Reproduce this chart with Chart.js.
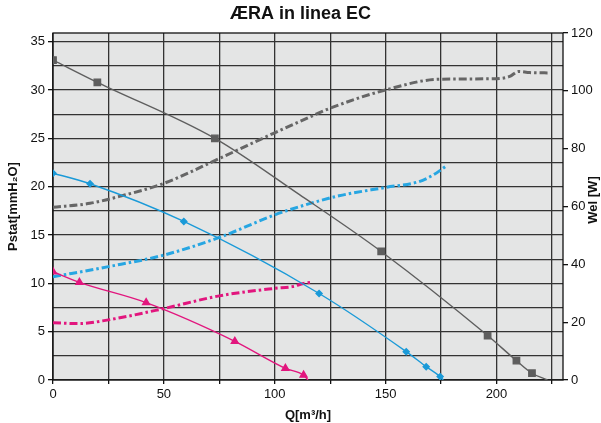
<!DOCTYPE html>
<html><head><meta charset="utf-8">
<script src="https://cdn.jsdelivr.net/npm/chart.js@4.4.1/dist/chart.umd.min.js"></script>
<style>html,body{margin:0;padding:0;background:#fff}#wrap{width:601px;height:423px}</style>
</head><body><div id="wrap"><canvas id="c" width="601" height="423"></canvas></div>
<script>
// Pressure curves (left axis, mmH2O) vs Q [m3/h]
const grayP_q = [0, 20, 73, 111, 148, 196, 209, 216, 223];
const grayP_v = [33.1, 30.8, 25.0, 19.2, 13.3, 4.6, 2.0, 0.7, 0];
const grayP_marks = [1,1,1,0,1,1,1,1,0];

const blueP_q = [0, 16.7, 59, 120, 159.3, 168.3, 174.6, 176];
const blueP_v = [21.4, 20.3, 16.4, 8.95, 2.93, 1.38, 0.35, 0];
const blueP_marks = [1,1,1,1,1,1,1,0];

const magP_q = [0, 11.9, 42, 82, 104.8, 113, 115];
const magP_v = [11.2, 10.1, 8.0, 4.0, 1.2, 0.5, 0];
const magP_marks = [1,1,1,1,1,1,0];

// Power curves (right axis, W) vs Q
const grayW_q = [0, 16.7, 30, 50, 75, 100, 111, 125, 150, 174, 200, 206, 210, 215, 224];
const grayW_v = [59.7, 61.1, 63.5, 68.0, 76.6, 85.5, 89.3, 94.0, 100.3, 104.0, 104.2, 105.0, 106.7, 106.3, 106.2];

const blueW_q = [0, 25, 50, 75, 100, 111, 129, 150, 165, 171.5, 177];
const blueW_v = [35.7, 39.2, 43.2, 49.3, 57.1, 59.9, 63.7, 66.6, 68.6, 70.9, 73.8];

const magW_q = [0, 12, 25, 50, 75, 100, 108, 113, 117];
const magW_v = [19.8, 19.5, 20.8, 24.7, 29.1, 31.7, 32.3, 33.4, 33.8];

const xTicks = [0, 50, 100, 150, 200];
const yTicks = [0, 5, 10, 15, 20, 25, 30, 35];
const y2Ticks = [0, 20, 40, 60, 80, 100, 120];

const GRAY = '#5e5e5e', BLUE = '#1a9ad8', MAG = '#e2167e';
const pts = (q, v) => q.map((x, i) => ({x, y: v[i]}));
const FONT = '"Liberation Sans", Arial, sans-serif';

const solid = (label, q, v, marks, color, style, r) => ({
  label, data: pts(q, v), yAxisID: 'y', borderColor: color, backgroundColor: color,
  borderWidth: 1.4, pointStyle: style, pointRadius: marks.map(m => m ? r : 0),
  pointHoverRadius: 0, cubicInterpolationMode: 'monotone'
});
const dashdot = (label, q, v, color) => ({
  label, data: pts(q, v), yAxisID: 'y2', borderColor: color, borderWidth: 3,
  borderDash: [8, 3, 2.5, 3], pointRadius: 0, cubicInterpolationMode: 'monotone'
});

const areaPlugin = {
  id: 'area',
  beforeDraw(chart) {
    const {ctx, chartArea: a} = chart;
    ctx.save(); ctx.fillStyle = '#e4e5e5';
    ctx.fillRect(a.left, a.top, a.right - a.left, a.bottom - a.top); ctx.restore();
  },
  beforeDatasetsDraw(chart) {
    const {ctx, chartArea: a} = chart;
    ctx.save(); ctx.strokeStyle = '#111'; ctx.lineWidth = 1.3;
    ctx.strokeRect(a.left, a.top, a.right - a.left, a.bottom - a.top); ctx.restore();
  },
  afterDraw(chart) {
    const {ctx} = chart;
    ctx.save(); ctx.font = 'bold 13px ' + FONT; ctx.fillStyle = '#111';
    ctx.textAlign = 'center'; ctx.textBaseline = 'middle';
    ctx.translate(593, 200); ctx.rotate(-Math.PI / 2);
    ctx.fillText('Wel [W]', 0, 0); ctx.restore();
  }
};

new Chart(document.getElementById('c'), {
  type: 'line',
  data: { datasets: [
    solid('gray P', grayP_q, grayP_v, grayP_marks, GRAY, 'rect', 4.5),
    solid('blue P', blueP_q, blueP_v, blueP_marks, BLUE, 'rectRot', 3),
    solid('mag P', magP_q, magP_v, magP_marks, MAG, 'triangle', 4),
    dashdot('gray W', grayW_q, grayW_v, '#666666'),
    dashdot('blue W', blueW_q, blueW_v, '#27a6e2'),
    dashdot('mag W', magW_q, magW_v, MAG)
  ]},
  options: {
    responsive: false, animation: false,
    layout: { padding: 0 },
    plugins: {
      legend: { display: false }, tooltip: { enabled: false },
      title: { display: true, text: 'ÆRA in linea EC', color: '#111',
        font: { family: FONT, size: 18, weight: 'bold' }, padding: { top: 3, bottom: 8.4 } }
    },
    scales: {
      x: { type: 'linear', min: 0, max: 230,
        afterFit(s) { s.height = 43; },
        afterBuildTicks(s) { s.ticks = [0,25,50,75,100,125,150,175,200,225].map(v => ({value: v})); },
        ticks: { color: '#111', font: { family: FONT, size: 13 }, padding: 3, maxRotation: 0,
          callback: v => xTicks.includes(v) ? String(v) : '' },
        grid: { color: '#333', lineWidth: 1.3, tickLength: 4, tickColor: '#111' },
        border: { display: false },
        title: { display: true, text: 'Q[m³/h]', color: '#111', padding: { top: 1, bottom: 0 },
          font: { family: FONT, size: 13, weight: 'bold' } }
      },
      y: { position: 'left', min: 0, max: 35.9,
        afterFit(s) { s.width = 53; },
        afterBuildTicks(s) { const t = []; for (let v = 0; v <= 35; v += 2.5) t.push({value: v}); s.ticks = t; },
        ticks: { color: '#111', font: { family: FONT, size: 13 }, padding: 3,
          callback: v => yTicks.includes(v) ? String(v) : '' },
        grid: { color: '#333', lineWidth: 1.3, tickLength: 5, tickColor: (c) => yTicks.includes(c.tick.value) ? '#111' : 'rgba(0,0,0,0)' },
        border: { display: false },
        title: { display: true, text: 'Pstat[mmH₂O]', color: '#111', padding: { top: 6, bottom: 2 },
          font: { family: FONT, size: 13, weight: 'bold' } }
      },
      y2: { position: 'right', min: 0, max: 120,
        afterFit(s) { s.width = 38; },
        afterBuildTicks(s) { s.ticks = y2Ticks.map(v => ({value: v})); },
        ticks: { color: '#111', font: { family: FONT, size: 13 }, padding: 3 },
        grid: { drawOnChartArea: false, tickLength: 5, color: '#111', lineWidth: 1.3 },
        border: { display: false }
      }
    }
  },
  plugins: [areaPlugin]
});
</script></body></html>
